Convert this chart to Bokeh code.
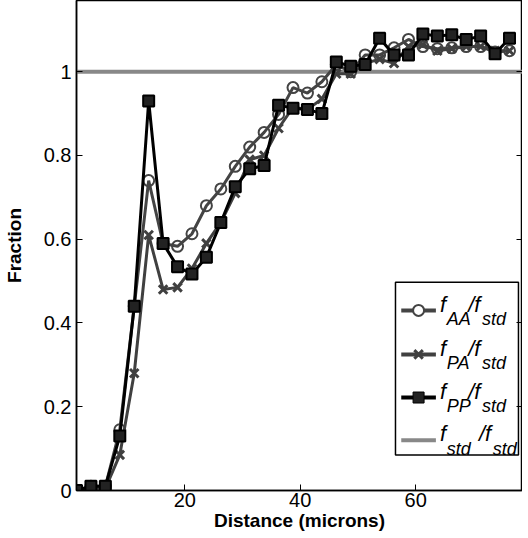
from bokeh.plotting import figure
from bokeh.models import Range1d, FixedTicker, LinearAxis
from bokeh.core.properties import value
from bokeh.embed import file_html
from bokeh.resources import INLINE

dist = [1.25 + 2.5 * k for k in range(31)]
f_aa = [0, 0.01, 0.01, 0.145, 0.44, 0.74, 0.59, 0.583, 0.613, 0.68, 0.72, 0.774, 0.82, 0.855, 0.898,
        0.962, 0.949, 0.976, 1.017, 1.0, 1.04, 1.04, 1.057, 1.077, 1.06, 1.055, 1.057, 1.06, 1.06, 1.047, 1.05]
f_pa = [0, 0.005, 0.005, 0.085, 0.28, 0.61, 0.48, 0.485, 0.53, 0.59, 0.64, 0.71, 0.79, 0.80, 0.865,
        0.915, 0.91, 0.935, 0.995, 0.995, 1.02, 1.03, 1.02, 1.06, 1.065, 1.05, 1.055, 1.06, 1.06, 1.05, 1.05]
f_pp = [0, 0.01, 0.01, 0.13, 0.44, 0.93, 0.59, 0.534, 0.517, 0.557, 0.64, 0.725, 0.768, 0.776, 0.92,
        0.913, 0.91, 0.90, 1.023, 1.013, 1.017, 1.08, 1.04, 1.04, 1.09, 1.085, 1.088, 1.077, 1.085, 1.043, 1.08]
f_std = 1.0

p = figure(frame_width=446, frame_height=490, output_backend="svg", toolbar_location=None,
           x_range=Range1d(1.25, 78.5), y_range=Range1d(0, 1.17),
           min_border_left=18, min_border_top=0, min_border_right=0, min_border_bottom=0)
p.grid.visible = False
p.outline_line_color = "black"
p.outline_line_width = 1.5

for ax in p.xaxis + p.yaxis:
    ax.major_label_text_font_size = "20px"
    ax.major_label_text_font = "Liberation Sans"
    ax.major_label_text_color = "black"
    ax.axis_label_text_font_size = "19px"
    ax.axis_label_text_font = "Liberation Sans"
    ax.axis_label_text_font_style = "bold"
    ax.axis_label_text_color = "black"
    ax.major_tick_in = 6
    ax.major_tick_out = 0
    ax.minor_tick_line_color = None
    ax.axis_line_width = 1.5
p.xaxis.ticker = FixedTicker(ticks=[20, 40, 60])
p.yaxis.ticker = FixedTicker(ticks=[0, 0.2, 0.4, 0.6, 0.8, 1])
p.yaxis.major_label_overrides = {0: "0", 1: "1"}
p.xaxis.axis_label = "Distance (microns)"
p.yaxis.axis_label = "Fraction"
p.xaxis.axis_label_standoff = 0
p.xaxis.major_label_standoff = 2
p.yaxis.axis_label_standoff = 16

ra = LinearAxis(ticker=FixedTicker(ticks=[0, 0.2, 0.4, 0.6, 0.8, 1]), major_label_text_color=None,
                major_tick_in=6, major_tick_out=0, minor_tick_line_color=None)
p.add_layout(ra, "right")

p.line([1.25, 78.5], [f_std, f_std], color="#888888", line_width=4)
p.line(dist, f_aa, color="#444444", line_width=3)
p.scatter(dist, f_aa, marker="circle", size=11, line_color="#444444", fill_color=None, line_width=2)
p.line(dist, f_pa, color="#404040", line_width=3)
p.scatter(dist, f_pa, marker="x", size=12, line_color="#404040", line_width=3)
p.line(dist, f_pp, color="black", line_width=3)
p.scatter(dist, f_pp, marker="square", size=11, line_color="black", fill_color="#222222", line_width=2)

# manual legend
p.quad(left=[56.5], right=[77.8], bottom=[0.085], top=[0.497], fill_color="white", line_color="black", line_width=1.5)
rows = [0.43, 0.325, 0.222, 0.12]
cols = ["#444444", "#404040", "black", "#888888"]
subs = ["AA", "PA", "PP", "std"]
fnt = value("Liberation Sans")
for yy, c, s in zip(rows, cols, subs):
    p.line([57.5, 63.5], [yy, yy], color=c, line_width=4)
    p.text([64.2], [yy + 0.015], text=["f"], text_font=fnt, text_font_style="italic",
           text_font_size="22px", text_baseline="middle")
    p.text([65.4], [yy - 0.02], text=[s], text_font=fnt, text_font_style="italic",
           text_font_size="18px", text_baseline="middle")
    xs = 65.4 + len(s) * 1.85
    p.text([xs], [yy + 0.015], text=["/f"], text_font=fnt, text_font_style="italic",
           text_font_size="22px", text_baseline="middle")
    p.text([xs + 2.4], [yy - 0.02], text=["std"], text_font=fnt, text_font_style="italic",
           text_font_size="18px", text_baseline="middle")
p.scatter([60.5], [rows[0]], marker="circle", size=11, line_color="#444444", fill_color="white", line_width=2)
p.scatter([60.5], [rows[1]], marker="x", size=12, line_color="#404040", line_width=3)
p.scatter([60.5], [rows[2]], marker="square", size=11, line_color="black", fill_color="#222222")

open("out.html", "w").write(file_html(p, INLINE))
